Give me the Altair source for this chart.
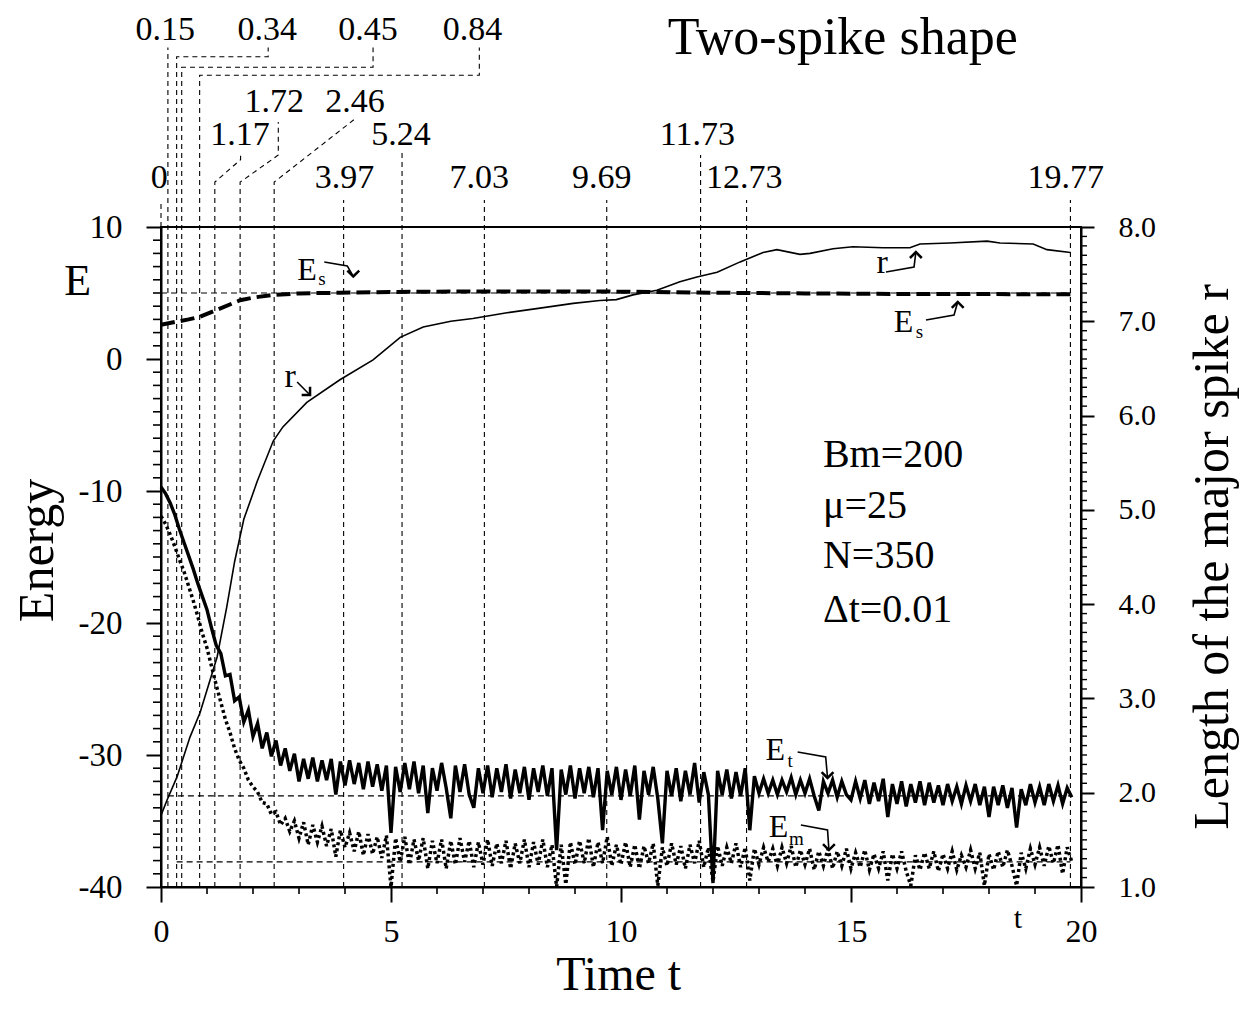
import altair as alt
import pandas as pd

FONT = "Liberation Serif"

T_DOMAIN = [0, 20]
E_DOMAIN = [-40, 10]
R_DOMAIN = [1.0, 8.0]

# ---- length of the major spike r (right axis) ----
R_T = [0, 0.13, 0.35, 0.63, 0.85, 1.07, 1.22, 1.43, 1.6, 1.8,
       2.09, 2.44, 2.65, 3.17, 3.89, 4.61, 5.2, 5.7, 6.3, 6.78,
       7.52, 8.24, 8.96, 9.54, 9.9, 10.26, 10.78, 11.28, 11.65, 12.09,
       12.59, 13.09, 13.39, 13.89, 14.11, 14.61, 15.04, 15.7, 16.28, 16.5,
       17.15, 17.96, 18.24, 18.96, 19.26, 19.77]
R_V = [1.76, 1.92, 2.17, 2.59, 2.85, 3.2, 3.44, 3.97, 4.45, 4.9,
       5.3, 5.73, 5.88, 6.14, 6.38, 6.59, 6.83, 6.94, 7.0, 7.03,
       7.09, 7.14, 7.19, 7.22, 7.23, 7.28, 7.33, 7.42, 7.47, 7.52,
       7.63, 7.73, 7.76, 7.71, 7.72, 7.77, 7.79, 7.78, 7.78, 7.82,
       7.83, 7.85, 7.83, 7.82, 7.76, 7.73]

# ---- Es (dashed) ----
ES_T = [0, 0.3, 0.6, 0.85, 1.2, 1.72, 2.0, 2.43, 3.0, 3.9, 5.0, 7.0, 9.0, 10.0, 12.0, 14.0, 16.0, 18.0, 19.77]
ES_V = [2.6, 2.8, 3.0, 3.2, 3.7, 4.45, 4.65, 4.85, 4.97, 5.02, 5.08, 5.12, 5.12, 5.1, 5.02, 4.97, 4.93, 4.92, 4.9]

# ---- Et (solid, noisy), sampled every 0.1 from t=0 ----
ET_V = [
    -9.7, -10.2, -10.9, -11.8, -12.9, -13.9, -14.9, -15.9, -17.0, -18.0,
    -19.0, -20.4, -21.7, -22.3, -24.0, -23.9, -25.9, -25.6, -27.5, -26.6,
    -28.6, -27.6, -29.5, -28.3, -30.1, -28.9, -30.8, -29.5, -31.2, -29.9,
    -32.0, -30.3, -31.8, -30.2, -32.0, -30.4, -31.9, -30.3, -33.0, -30.5,
    -32.3, -30.4, -32.2, -30.6, -32.6, -30.5, -32.4, -30.7, -32.7, -30.8,
    -35.9, -30.9, -32.8, -30.6, -32.6, -30.5, -32.9, -30.8, -34.4, -31.0,
    -32.7, -30.6, -32.5, -34.8, -30.8, -32.8, -30.7, -33.0, -34.0, -31.0,
    -32.9, -30.8, -33.2, -31.0, -32.8, -30.7, -33.3, -31.1, -32.9, -30.9,
    -33.4, -31.0, -32.8, -30.8, -33.1, -31.0, -37.2, -31.1, -33.0, -30.8,
    -33.3, -31.0, -32.9, -30.9, -33.2, -31.0, -35.7, -31.2, -33.0, -30.9,
    -33.4, -31.1, -33.1, -30.8, -34.9, -31.2, -33.0, -30.9, -33.3, -36.7,
    -31.2, -33.1, -31.0, -33.5, -31.2, -33.0, -30.6, -33.6, -31.3, -33.0,
    -39.7, -31.2, -33.0, -31.1, -33.3, -31.3, -33.1, -31.0, -35.7, -31.6,
    -32.9, -31.8, -32.9, -31.9, -33.0, -31.9, -32.8, -31.7, -33.0, -31.9,
    -32.9, -31.8, -33.1, -34.2, -32.0, -32.9, -31.9, -33.2, -32.0, -33.0,
    -33.4, -32.0, -33.3, -31.9, -33.7, -32.1, -33.5, -31.8, -34.7, -32.2,
    -33.7, -32.0, -33.9, -32.2, -33.6, -32.0, -33.8, -32.1, -33.6, -32.3,
    -33.8, -32.2, -33.5, -32.4, -33.7, -32.3, -33.5, -32.2, -33.8, -32.4,
    -34.7, -32.4, -33.8, -32.3, -34.0, -32.5, -35.5, -32.6, -33.8, -32.2,
    -33.6, -32.4, -33.8, -32.2, -33.5, -32.3, -33.7, -32.5, -33.2,
]

# ---- Em (dotted, noisy), sampled every 0.1 from t=0 ----
EM_V = [
    -11.9, -12.5, -13.3, -14.2, -15.2, -16.1, -17.2, -18.3, -19.5, -20.8,
    -21.9, -23.3, -24.7, -26.0, -27.3, -28.3, -29.5, -30.4, -31.0, -31.9,
    -32.4, -32.8, -33.6, -33.7, -34.5, -34.3, -35.3, -34.8, -35.8, -35.0,
    -36.3, -35.1, -36.8, -35.3, -36.6, -35.4, -36.9, -35.6, -37.7, -35.7,
    -37.0, -35.9, -37.3, -35.8, -37.6, -36.0, -37.5, -36.2, -37.8, -36.1,
    -40.0, -36.3, -38.1, -36.2, -38.3, -36.4, -38.0, -36.3, -38.6, -36.5,
    -38.2, -36.4, -38.6, -36.5, -38.3, -36.3, -38.1, -36.5, -38.5, -36.6,
    -38.3, -36.4, -38.4, -36.7, -38.2, -36.5, -38.6, -36.7, -38.2, -36.4,
    -38.5, -36.6, -38.3, -36.4, -38.5, -36.8, -40.0, -36.8, -39.8, -36.6,
    -38.3, -36.5, -38.2, -36.3, -38.5, -36.6, -38.2, -36.2, -38.4, -36.8,
    -38.3, -36.6, -38.5, -36.8, -38.6, -36.9, -38.2, -36.7, -39.9, -37.0,
    -38.4, -36.7, -38.3, -36.9, -38.6, -36.8, -38.2, -36.5, -38.5, -37.0,
    -39.6, -36.9, -38.4, -37.0, -38.2, -36.7, -38.5, -37.0, -39.5, -37.1,
    -38.3, -37.0, -38.1, -37.1, -38.4, -37.0, -38.2, -36.9, -38.5, -37.2,
    -38.3, -37.1, -38.7, -37.3, -38.4, -37.1, -38.6, -37.3, -38.4, -37.1,
    -38.6, -37.4, -38.5, -37.2, -38.7, -37.5, -38.6, -37.3, -39.5, -37.5,
    -38.6, -37.3, -38.8, -39.9, -37.6, -38.7, -37.4, -38.6, -37.3, -38.8,
    -37.5, -38.6, -37.3, -38.7, -37.6, -38.5, -37.2, -38.6, -37.4, -39.9,
    -37.5, -38.7, -37.3, -38.5, -37.2, -38.4, -39.9, -37.4, -38.6, -37.1,
    -38.3, -37.0, -38.4, -36.9, -38.2, -36.8, -39.0, -37.0, -38.1,
]
SAMPLE_DT = 0.1

# ---- reference (horizontal dashed) lines ----
REF_E = [5.0, -33.1, -38.1]
REF_T0 = [0.0, 0.15, 0.34]
REF_T1 = [19.77, 19.77, 19.77]

# ---- top time marks: labels and their leader paths ----
TOP_LABELS = ["0", "0.15", "0.34", "0.45", "0.84", "1.17", "1.72", "2.46",
              "3.97", "5.24", "7.03", "9.69", "11.73", "12.73", "19.77"]
TOP_LABEL_T = [-0.04, 0.09, 2.31, 4.50, 6.77, 1.72, 2.46, 4.22,
               3.99, 5.22, 6.92, 9.58, 11.66, 12.68, 19.67]
TOP_LABEL_E = [13.7, 24.9, 24.9, 24.9, 24.9, 17.0, 19.5, 19.5,
               13.7, 17.0, 13.7, 13.7, 17.0, 13.7, 13.7]
LEADERS = {
    "0": [(0, 10), (0, 12.05)],
    "0.15": [(0.15, -40), (0.15, 23.6)],
    "0.34": [(0.34, -40), (0.34, 22.9), (2.33, 22.9), (2.33, 23.6)],
    "0.45": [(0.45, -40), (0.45, 22.1), (4.61, 22.1), (4.61, 23.6)],
    "0.84": [(0.84, -40), (0.84, 21.5), (6.92, 21.5), (6.92, 23.6)],
    "1.17": [(1.17, -40), (1.17, 13.4), (1.73, 15.1), (1.73, 15.7)],
    "1.72": [(1.72, -40), (1.72, 13.4), (2.55, 15.45), (2.55, 17.95)],
    "2.46": [(2.46, -40), (2.46, 13.4), (4.22, 18.2)],
    "3.97": [(3.97, -40), (3.97, 12.05)],
    "5.24": [(5.24, -40), (5.24, 15.6)],
    "7.03": [(7.03, -40), (7.03, 12.05)],
    "9.69": [(9.69, -40), (9.69, 12.05)],
    "11.73": [(11.73, -40), (11.73, 15.45)],
    "12.73": [(12.73, -40), (12.73, 12.05)],
    "19.77": [(19.77, -40), (19.77, 12.05)],
}

# ---- curve annotations (letter, subscript, arrows) ----
ANN_E_T = [2.96, 15.93, 13.14, 13.21]
ANN_E_E = [5.98, 2.05, -30.38, -36.2]
ANN_SUB = ["s", "s", "t", "m"]
ANN_SUB_T = [3.42, 16.41, 13.62, 13.65]
ANN_SUB_E = [5.6, 1.6, -30.9, -36.8]
ANN_R_T = [2.81, 15.68]
ANN_R_E = [-2.12, 6.52]
ARROWS = {
    "Es1": [(3.55, 7.35), (4.05, 7.05), (4.18, 6.25)],
    "r1": [(2.96, -1.74), (3.24, -2.73)],
    "r2": [(15.76, 6.59), (16.37, 6.97), (16.41, 8.1)],
    "Es2": [(16.63, 2.95), (17.24, 3.33), (17.32, 4.32)],
    "Et": [(13.84, -29.77), (14.45, -30.15), (14.49, -31.74)],
    "Em": [(13.91, -35.3), (14.49, -35.68), (14.52, -37.2)],
}
HEAD_ANGLE = {"Es1": 90, "r1": 45, "r2": 270, "Es2": 270, "Et": 90, "Em": 90}

INFO_LINES = ["Bm=200", "\u03bc=25", "N=350", "\u0394t=0.01"]
INFO_T = 14.39
INFO_E = [-8.18, -12.05, -15.83, -19.92]

# ---- axis ticks ----
X_MAJOR = [0, 5, 10, 15, 20]
X_MINOR = [v for v in range(0, 21) if v % 5 != 0]
E_MAJOR = [-40, -30, -20, -10, 0, 10]
E_MINOR = [v for v in range(-40, 11) if v % 10 != 0]
R_MAJOR = [1, 2, 3, 4, 5, 6, 7, 8]
R_MINOR = [round(1 + i / 10, 1) for i in range(71) if i % 10 != 0]

# ======================================================================
xs = alt.Scale(domain=T_DOMAIN, nice=False, zero=False)
ys = alt.Scale(domain=E_DOMAIN, nice=False, zero=False)
rs = alt.Scale(domain=R_DOMAIN, nice=False, zero=False)


def X(f="t"):
    return alt.X(f"{f}:Q", scale=xs, axis=None)


def Y(f="E"):
    return alt.Y(f"{f}:Q", scale=ys, axis=None)


common_axis = dict(domainColor="black", domainWidth=2, tickColor="black", tickWidth=2,
                   labelColor="black", labelFont=FONT, grid=False, title=None,
                   labelFlush=False, labelOverlap=False)

noise_t = [round(i * SAMPLE_DT, 1) for i in range(len(ET_V))]
et_df = pd.DataFrame({"t": noise_t, "E": ET_V})
em_df = pd.DataFrame({"t": noise_t, "E": EM_V})
es_df = pd.DataFrame({"t": ES_T, "E": ES_V})
r_df = pd.DataFrame({"t": R_T, "r": R_V})

lead_rows = []
for name, pts in LEADERS.items():
    for k, (tt, ee) in enumerate(pts):
        lead_rows.append({"id": name, "k": k, "t": tt, "E": ee})
lead_df = pd.DataFrame(lead_rows)

arr_rows = []
head_rows = []
for name, pts in ARROWS.items():
    for k, (tt, ee) in enumerate(pts):
        arr_rows.append({"id": name, "k": k, "t": tt, "E": ee})
    head_rows.append({"t": pts[-1][0], "E": pts[-1][1], "ang": HEAD_ANGLE[name]})
arr_df = pd.DataFrame(arr_rows)
head_df = pd.DataFrame(head_rows)

ref_df = pd.DataFrame({"E": REF_E, "t0": REF_T0, "t1": REF_T1})

leaders = alt.Chart(lead_df).mark_line(strokeDash=[5, 4], strokeWidth=1.1, color="black").encode(
    x=X(), y=Y(), detail="id:N", order="k:Q")

refs = alt.Chart(ref_df).mark_rule(strokeDash=[6, 4], strokeWidth=1.1, color="black").encode(
    x=X("t0"), x2="t1:Q", y=Y())

es_line = alt.Chart(es_df).mark_line(strokeDash=[14, 6], strokeWidth=4, color="black").encode(
    x=X(), y=Y())

em_line = alt.Chart(em_df).mark_line(strokeDash=[3, 3], strokeWidth=3.5, color="black").encode(
    x=X(), y=Y())

et_line = alt.Chart(et_df).mark_line(strokeWidth=3.4, color="black").encode(
    x=alt.X("t:Q", scale=xs, axis=alt.Axis(values=X_MAJOR, tickSize=15, labelFontSize=32,
                                            labelPadding=14, orient="bottom", **common_axis)),
    y=alt.Y("E:Q", scale=ys, axis=alt.Axis(values=E_MAJOR, tickSize=15, labelFontSize=33,
                                            labelPadding=24, orient="left",
                                            labelExpr="datum.value + ''", **common_axis)),
)

arrows = alt.Chart(arr_df).mark_line(strokeWidth=1.6, color="black").encode(
    x=X(), y=Y(), detail="id:N", order="k:Q")

heads = alt.Chart(head_df).mark_point(shape="M-1,-1L0,0L-1,1", filled=False, size=140,
                                      strokeWidth=2.5, color="black", opacity=1).encode(
    x=X(), y=Y(), angle=alt.Angle("ang:Q", scale=None))

left_minor = alt.Chart(pd.DataFrame({"t": [0] * len(E_MINOR), "E": E_MINOR})).mark_rule(
    x2Offset=-8, strokeWidth=1.6, color="black").encode(x=X(), x2="t:Q", y=Y())

bottom_minor = alt.Chart(pd.DataFrame({"t": X_MINOR, "E": [E_DOMAIN[0]] * len(X_MINOR)})).mark_rule(
    y2Offset=7, strokeWidth=1.6, color="black").encode(x=X(), y=Y(), y2="E:Q")


def texts(df, size, align="center", baseline="middle", angle=0):
    return alt.Chart(df).mark_text(font=FONT, fontSize=size, align=align, baseline=baseline,
                                   angle=angle, color="black").encode(
        x=X(), y=Y(), text="txt:N")


top_labels = texts(pd.DataFrame({"t": TOP_LABEL_T, "E": TOP_LABEL_E, "txt": TOP_LABELS}), 34)
ann_e = texts(pd.DataFrame({"t": ANN_E_T, "E": ANN_E_E, "txt": ["E"] * 4}), 32, "left", "alphabetic")
ann_sub = texts(pd.DataFrame({"t": ANN_SUB_T, "E": ANN_SUB_E, "txt": ANN_SUB}), 19, "left", "alphabetic")
ann_r = texts(pd.DataFrame({"t": ANN_R_T, "E": ANN_R_E, "txt": ["r", "r"]}), 34, "center", "alphabetic")
info = texts(pd.DataFrame({"t": [INFO_T] * 4, "E": INFO_E, "txt": INFO_LINES}), 40, "left", "alphabetic")
title = texts(pd.DataFrame({"t": [14.82], "E": [23.1], "txt": ["Two-spike shape"]}), 52, "center", "alphabetic")
e_side = texts(pd.DataFrame({"t": [-1.81], "E": [5.83], "txt": ["E"]}), 44)
t_small = texts(pd.DataFrame({"t": [18.63], "E": [-43.1], "txt": ["t"]}), 30, "center", "alphabetic")
x_title = texts(pd.DataFrame({"t": [9.95], "E": [-47.8], "txt": ["Time t"]}), 48, "center", "alphabetic")
y_title = texts(pd.DataFrame({"t": [-2.67], "E": [-14.5], "txt": ["Energy"]}), 50, "center", "middle", 270)
r_title = texts(pd.DataFrame({"t": [22.87], "E": [-15.0], "txt": ["Length of the major spike r"]}),
                50, "center", "middle", 270)

r_line = alt.Chart(r_df).mark_line(strokeWidth=1.6, color="black").encode(
    x=X(),
    y=alt.Y("r:Q", scale=rs, axis=alt.Axis(values=R_MAJOR, format=".1f", tickSize=13,
                                            labelFontSize=30, labelPadding=24, orient="right",
                                            **common_axis)),
)
right_minor = alt.Chart(pd.DataFrame({"t": [20] * len(R_MINOR), "r": R_MINOR})).mark_rule(
    x2Offset=6, strokeWidth=1.4, color="black").encode(
    x=X(), x2="t:Q", y=alt.Y("r:Q", scale=rs, axis=None))

chart = alt.layer(
    leaders, refs, es_line, em_line, et_line, r_line, arrows, heads,
    left_minor, bottom_minor, right_minor,
    top_labels, ann_e, ann_sub, ann_r, info, title, e_side, t_small,
    x_title, y_title, r_title,
).resolve_scale(x="independent", y="independent").properties(
    width=920, height=660,
    padding={"left": 153, "top": 219, "right": 162, "bottom": 114},
    autosize=alt.AutoSizeParams(type="none"),
).configure_view(stroke="black", strokeWidth=2)

chart.save("out.html", embed_options={"renderer": "svg", "actions": False})
